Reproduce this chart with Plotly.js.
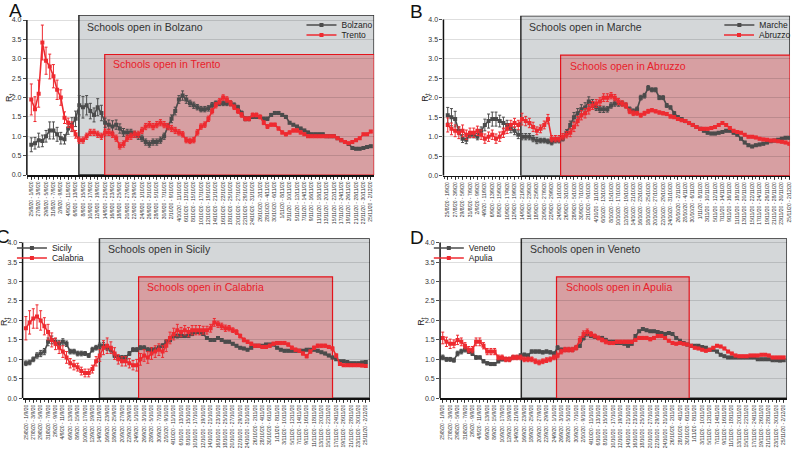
<!DOCTYPE html>
<html>
<head>
<meta charset="utf-8">
<script src="https://cdn.plot.ly/plotly-3.0.1.min.js"></script>
<style>
  html, body { margin: 0; padding: 0; background: #fff; }
  #chart { width: 796px; height: 450px; }
</style>
</head>
<body>
<div id="chart"></div>
<script>
// 7-day windows, one label every second day
const tickLabels = ['25/8/20 - 1/9/20','27/8/20 - 3/9/20','29/8/20 - 5/9/20','31/8/20 - 7/9/20',
  '2/9/20 - 9/9/20','4/9/20 - 11/9/20','6/9/20 - 13/9/20','8/9/20 - 15/9/20','10/9/20 - 17/9/20',
  '12/9/20 - 19/9/20','14/9/20 - 21/9/20','16/9/20 - 23/9/20','18/9/20 - 25/9/20','20/9/20 - 27/9/20',
  '22/9/20 - 29/9/20','24/9/20 - 1/10/20','26/9/20 - 3/10/20','28/9/20 - 5/10/20','30/9/20 - 7/10/20',
  '2/10/20 - 9/10/20','4/10/20 - 11/10/20','6/10/20 - 13/10/20','8/10/20 - 15/10/20','10/10/20 - 17/10/20',
  '12/10/20 - 19/10/20','14/10/20 - 21/10/20','16/10/20 - 23/10/20','18/10/20 - 25/10/20','20/10/20 - 27/10/20',
  '22/10/20 - 29/10/20','24/10/20 - 31/10/20','26/10/20 - 2/11/20','28/10/20 - 4/11/20','30/10/20 - 6/11/20',
  '1/11/20 - 8/11/20','3/11/20 - 10/11/20','5/11/20 - 12/11/20','7/11/20 - 14/11/20','9/11/20 - 16/11/20',
  '11/11/20 - 18/11/20','13/11/20 - 20/11/20','15/11/20 - 22/11/20','17/11/20 - 24/11/20','19/11/20 - 26/11/20',
  '21/11/20 - 28/11/20','23/11/20 - 30/11/20','25/11/20 - 2/12/20'];

const yTicks = [0, 0.5, 1, 1.5, 2, 2.5, 3, 3.5, 4];

// Rt per daily window (panel A)
const bolzano = [0.78,0.82,0.90,0.88,1.00,1.15,1.15,1.05,0.95,0.92,
  1.20,1.30,1.45,1.80,1.75,1.80,1.65,1.55,1.75,1.60,
  1.35,1.30,1.25,1.30,1.20,1.10,1.10,1.10,1.05,1.00,
  0.95,0.85,0.80,0.85,0.85,0.90,1.00,1.25,1.45,1.65,
  1.95,2.05,1.95,1.85,1.80,1.75,1.70,1.70,1.72,1.80,
  1.85,1.85,1.85,1.85,1.85,1.80,1.75,1.60,1.45,1.45,
  1.50,1.50,1.50,1.45,1.45,1.55,1.60,1.60,1.55,1.50,
  1.35,1.30,1.25,1.20,1.15,1.10,1.05,1.05,1.05,1.05,
  1.00,1.00,1.00,0.95,0.90,0.85,0.80,0.70,0.68,0.68,
  0.70,0.72,0.74];
const bolzanoErr = [0.18,0.15,0.18,0.15,0.15,0.22,0.22,0.18,0.15,0.12,
  0.15,0.18,0.20,0.25,0.28,0.25,0.20,0.18,0.22,0.20,
  0.12,0.12,0.15,0.12,0.12,0.10,0.08,0.08,0.08,0.08,
  0.08,0.08,0.08,0.08,0.08,0.08,0.08,0.08,0.10,0.10,
  0.10,0.12,0.10,0.08,0.08,0.07,0.07,0.07,0.07,0.07,
  0.06,0.06,0.06,0.06,0.06,0.06,0.05,0.05,0.05,0.05,
  0.04,0.04,0.04,0.04,0.04,0.04,0.04,0.04,0.04,0.04,
  0.03,0.03,0.03,0.03,0.03,0.03,0.03,0.03,0.03,0.03,
  0.03,0.03,0.03,0.03,0.03,0.03,0.03,0.03,0.03,0.03,
  0.03,0.03,0.03];
const trento = [1.95,1.70,2.10,3.42,2.95,2.80,2.55,2.20,2.00,1.48,
  1.35,1.25,1.05,0.90,0.90,1.00,1.10,1.10,1.05,1.00,
  1.10,1.10,1.05,0.95,0.75,0.80,0.95,1.00,1.05,1.05,
  1.15,1.25,1.30,1.25,1.30,1.35,1.30,1.25,1.20,1.15,
  1.10,1.05,0.90,0.88,0.90,1.10,1.25,1.30,1.45,1.65,
  1.80,1.90,2.00,1.95,1.85,1.75,1.65,1.55,1.45,1.45,
  1.55,1.55,1.50,1.35,1.25,1.30,1.30,1.20,1.10,1.05,
  1.10,1.15,1.15,1.10,1.05,1.00,1.00,1.00,1.00,1.00,
  1.00,1.00,1.00,0.95,0.90,0.85,0.82,0.85,0.90,0.95,
  1.05,1.05,1.12];
const trentoErr = [0.40,0.32,0.35,0.45,0.35,0.32,0.30,0.25,0.20,0.15,
  0.12,0.12,0.10,0.08,0.08,0.08,0.08,0.08,0.08,0.08,
  0.08,0.08,0.08,0.08,0.08,0.08,0.08,0.08,0.08,0.08,
  0.08,0.08,0.08,0.08,0.08,0.08,0.08,0.08,0.08,0.08,
  0.07,0.07,0.07,0.07,0.07,0.07,0.07,0.07,0.07,0.07,
  0.07,0.07,0.07,0.07,0.07,0.06,0.06,0.06,0.05,0.05,
  0.05,0.05,0.05,0.05,0.05,0.04,0.04,0.04,0.04,0.04,
  0.04,0.04,0.04,0.04,0.03,0.03,0.03,0.03,0.03,0.03,
  0.03,0.03,0.03,0.03,0.03,0.03,0.03,0.03,0.03,0.03,
  0.03,0.03,0.03];

// panel B
const marche = [1.55,1.50,1.45,1.15,0.95,0.92,1.05,1.05,1.00,1.15,
  1.30,1.40,1.45,1.45,1.40,1.35,1.30,1.20,1.15,1.05,
  1.00,1.00,1.00,0.95,0.90,0.90,0.90,0.88,0.85,0.90,
  0.90,0.95,1.10,1.30,1.50,1.60,1.70,1.75,1.90,1.85,
  1.75,1.70,1.70,1.70,1.80,1.85,1.85,1.85,1.80,1.70,
  1.65,1.70,2.00,2.05,2.25,2.20,2.20,2.00,2.00,1.80,
  1.75,1.60,1.50,1.45,1.40,1.35,1.30,1.25,1.20,1.15,
  1.10,1.08,1.08,1.10,1.12,1.15,1.15,1.10,1.05,0.95,
  0.85,0.78,0.75,0.78,0.80,0.82,0.85,0.88,0.90,0.92,
  0.95,0.97,0.97];
const marcheErr = [0.20,0.22,0.20,0.10,0.10,0.10,0.08,0.08,0.08,0.10,
  0.15,0.18,0.18,0.18,0.15,0.15,0.12,0.10,0.10,0.10,
  0.08,0.08,0.08,0.08,0.08,0.06,0.06,0.06,0.06,0.06,
  0.06,0.06,0.08,0.10,0.12,0.12,0.12,0.12,0.12,0.10,
  0.08,0.08,0.08,0.07,0.07,0.07,0.07,0.06,0.06,0.06,
  0.06,0.06,0.06,0.06,0.06,0.05,0.05,0.05,0.05,0.05,
  0.04,0.04,0.04,0.04,0.04,0.04,0.04,0.03,0.03,0.03,
  0.03,0.03,0.03,0.03,0.03,0.03,0.03,0.03,0.03,0.03,
  0.03,0.03,0.03,0.03,0.03,0.03,0.03,0.03,0.03,0.03,
  0.03,0.03,0.03];
const abruzzo = [1.30,1.20,1.15,1.10,1.15,1.05,1.10,1.10,1.15,1.05,
  0.95,1.00,1.05,0.95,1.00,1.10,1.20,1.30,1.35,1.30,
  1.45,1.40,1.35,1.25,1.15,1.20,1.30,1.45,0.95,0.95,
  0.95,1.00,1.05,1.10,1.25,1.40,1.55,1.60,1.70,1.80,
  1.85,1.90,2.00,2.00,2.05,2.00,1.90,1.85,1.80,1.65,
  1.60,1.60,1.55,1.60,1.65,1.68,1.65,1.62,1.60,1.58,
  1.52,1.50,1.45,1.42,1.40,1.35,1.30,1.25,1.20,1.20,
  1.20,1.22,1.25,1.30,1.35,1.30,1.22,1.15,1.12,1.10,
  1.05,1.00,1.00,0.98,0.95,0.93,0.92,0.90,0.90,0.88,
  0.87,0.85,0.82];
const abruzzoErr = [0.18,0.15,0.15,0.15,0.15,0.12,0.12,0.12,0.12,0.12,
  0.12,0.12,0.12,0.12,0.12,0.12,0.12,0.12,0.12,0.12,
  0.15,0.12,0.12,0.12,0.10,0.10,0.10,0.12,0.08,0.08,
  0.08,0.08,0.08,0.10,0.12,0.12,0.12,0.12,0.12,0.10,
  0.10,0.10,0.10,0.10,0.08,0.08,0.08,0.07,0.07,0.06,
  0.06,0.05,0.05,0.05,0.05,0.04,0.04,0.04,0.04,0.04,
  0.04,0.03,0.03,0.03,0.03,0.03,0.03,0.03,0.03,0.03,
  0.03,0.03,0.03,0.03,0.03,0.03,0.03,0.03,0.03,0.03,
  0.03,0.03,0.03,0.03,0.03,0.03,0.03,0.03,0.03,0.03,
  0.03,0.03,0.03];

// panel C
const sicily = [0.90,0.92,1.00,1.10,1.15,1.20,1.45,1.50,1.45,1.40,
  1.45,1.40,1.20,1.20,1.15,1.15,1.15,1.10,1.25,1.30,
  1.35,1.35,1.30,1.25,1.10,1.05,1.05,1.05,1.15,1.25,
  1.25,1.30,1.30,1.25,1.25,1.25,1.30,1.35,1.45,1.50,
  1.60,1.60,1.60,1.60,1.60,1.65,1.70,1.70,1.65,1.55,
  1.50,1.50,1.55,1.50,1.45,1.45,1.40,1.35,1.30,1.28,
  1.25,1.30,1.35,1.35,1.35,1.38,1.38,1.38,1.30,1.25,
  1.22,1.22,1.22,1.22,1.22,1.22,1.25,1.25,1.25,1.22,
  1.18,1.15,1.10,1.05,1.00,0.95,0.95,0.93,0.90,0.90,
  0.90,0.92,0.93];
const sicilyErr = [0.06,0.06,0.06,0.07,0.08,0.08,0.10,0.10,0.08,0.08,
  0.08,0.07,0.06,0.06,0.06,0.06,0.05,0.05,0.06,0.06,
  0.07,0.08,0.07,0.06,0.05,0.05,0.05,0.05,0.05,0.05,
  0.05,0.05,0.05,0.05,0.05,0.05,0.05,0.05,0.05,0.05,
  0.05,0.05,0.04,0.04,0.04,0.04,0.04,0.04,0.03,0.03,
  0.03,0.03,0.03,0.03,0.03,0.03,0.03,0.03,0.03,0.03,
  0.03,0.03,0.03,0.03,0.03,0.03,0.03,0.03,0.03,0.03,
  0.03,0.03,0.03,0.03,0.03,0.03,0.03,0.03,0.03,0.03,
  0.03,0.03,0.03,0.03,0.03,0.03,0.03,0.03,0.03,0.03,
  0.03,0.03,0.03];
const calabria = [1.80,1.95,2.05,2.10,2.00,1.85,1.70,1.50,1.40,1.30,
  1.20,1.05,0.90,0.85,0.80,0.70,0.65,0.65,0.75,0.95,
  1.10,1.30,1.35,1.30,1.15,1.00,0.95,0.95,0.90,0.85,
  0.85,1.00,1.10,1.05,1.15,1.20,1.25,1.20,1.35,1.55,
  1.65,1.75,1.70,1.75,1.70,1.75,1.75,1.75,1.75,1.75,
  1.80,1.95,1.90,1.85,1.80,1.80,1.75,1.70,1.60,1.50,
  1.45,1.40,1.35,1.35,1.32,1.32,1.35,1.40,1.42,1.42,
  1.42,1.38,1.30,1.25,1.22,1.15,1.08,1.20,1.30,1.35,
  1.35,1.35,1.32,1.28,1.10,0.88,0.85,0.85,0.85,0.85,
  0.85,0.84,0.83];
const calabriaErr = [0.30,0.30,0.25,0.30,0.25,0.22,0.20,0.18,0.15,0.15,
  0.15,0.15,0.12,0.12,0.10,0.10,0.10,0.10,0.10,0.12,
  0.15,0.18,0.20,0.15,0.15,0.12,0.12,0.12,0.12,0.12,
  0.15,0.15,0.15,0.15,0.15,0.15,0.15,0.15,0.15,0.15,
  0.15,0.15,0.12,0.12,0.12,0.12,0.12,0.12,0.10,0.10,
  0.10,0.10,0.08,0.08,0.08,0.07,0.06,0.06,0.05,0.05,
  0.04,0.04,0.04,0.04,0.04,0.04,0.04,0.04,0.04,0.04,
  0.04,0.04,0.04,0.04,0.04,0.04,0.04,0.04,0.04,0.04,
  0.04,0.04,0.04,0.04,0.04,0.03,0.03,0.03,0.03,0.03,
  0.03,0.03,0.03];

// panel D
const veneto = [1.05,1.00,1.00,0.98,1.15,1.20,1.25,1.20,1.15,1.05,
  1.05,0.95,0.90,0.88,0.88,0.95,1.00,1.00,1.00,1.05,
  1.05,1.10,1.12,1.10,1.20,1.20,1.20,1.18,1.20,1.18,
  1.15,1.30,1.25,1.25,1.25,1.25,1.30,1.35,1.55,1.65,
  1.60,1.58,1.55,1.55,1.50,1.45,1.45,1.42,1.42,1.40,
  1.35,1.40,1.60,1.72,1.78,1.75,1.72,1.72,1.70,1.68,
  1.65,1.68,1.65,1.55,1.48,1.42,1.38,1.35,1.35,1.35,
  1.32,1.30,1.25,1.25,1.20,1.12,1.08,1.05,1.05,1.05,
  1.05,1.05,1.05,1.05,1.05,1.00,1.00,1.00,1.00,0.98,
  0.98,0.97,0.98];
const venetoErr = [0.06,0.05,0.05,0.05,0.06,0.06,0.06,0.05,0.05,0.05,
  0.04,0.04,0.04,0.04,0.04,0.04,0.04,0.04,0.04,0.04,
  0.04,0.04,0.04,0.04,0.04,0.04,0.04,0.04,0.04,0.04,
  0.04,0.05,0.04,0.04,0.04,0.04,0.04,0.04,0.05,0.05,
  0.04,0.04,0.04,0.04,0.04,0.03,0.03,0.03,0.03,0.03,
  0.03,0.03,0.03,0.03,0.03,0.03,0.03,0.03,0.03,0.03,
  0.03,0.03,0.03,0.03,0.03,0.03,0.03,0.03,0.03,0.03,
  0.03,0.03,0.03,0.03,0.03,0.03,0.03,0.03,0.03,0.03,
  0.03,0.03,0.03,0.03,0.03,0.03,0.03,0.03,0.03,0.03,
  0.03,0.03,0.03];
const apulia = [1.55,1.45,1.40,1.40,1.50,1.45,1.35,1.25,1.25,1.45,
  1.45,1.35,1.20,1.20,1.20,1.05,1.05,1.00,1.00,1.05,
  1.05,1.05,1.00,1.00,1.00,0.95,0.92,0.95,0.98,1.00,
  1.05,1.10,1.20,1.25,1.25,1.25,1.30,1.50,1.65,1.70,
  1.65,1.60,1.55,1.50,1.45,1.42,1.42,1.45,1.45,1.45,
  1.45,1.45,1.50,1.55,1.55,1.55,1.52,1.55,1.60,1.60,
  1.55,1.48,1.42,1.40,1.42,1.40,1.38,1.35,1.30,1.28,
  1.25,1.22,1.25,1.30,1.35,1.33,1.28,1.20,1.15,1.10,
  1.08,1.08,1.08,1.10,1.10,1.10,1.12,1.12,1.10,1.05,
  1.05,1.05,1.05];
const apuliaErr = [0.15,0.12,0.12,0.10,0.12,0.10,0.08,0.08,0.08,0.10,
  0.10,0.08,0.08,0.08,0.08,0.06,0.06,0.06,0.06,0.06,
  0.06,0.06,0.06,0.06,0.06,0.06,0.06,0.06,0.06,0.06,
  0.06,0.06,0.06,0.06,0.06,0.06,0.06,0.08,0.08,0.08,
  0.06,0.05,0.05,0.05,0.05,0.04,0.04,0.04,0.04,0.04,
  0.04,0.04,0.04,0.04,0.04,0.04,0.04,0.04,0.04,0.04,
  0.04,0.03,0.03,0.03,0.03,0.03,0.03,0.03,0.03,0.03,
  0.03,0.03,0.03,0.03,0.03,0.03,0.03,0.03,0.03,0.03,
  0.03,0.03,0.03,0.03,0.03,0.03,0.03,0.03,0.03,0.03,
  0.03,0.03,0.03];

const DARK = '#4b4b4b';
const RED = '#ee2a30';
const GRAY_FILL = '#d4d7d9';
const RED_FILL = '#d79fa2';

// px helpers (figure is 796 x 450, no margins)
const px = v => v / 796;
const py = v => 1 - v / 450;

const panels = [
  { letter: 'A', lx: 16, ly: 10, dom: [27, 376], ydom: [15, 175], xr: [-1.2, 92.9], ytop: 4.13,
    grayX: 12.9, redX0: 19.9, redX1: 92.9, redTop: 3.11,
    names: ['Bolzano', 'Trento'], data: [bolzano, trento], errs: [bolzanoErr, trentoErr],
    grayText: [85, 27], redText: [112, 64], rt: [10, 97], legX: 303, legY: [25, 35] },
  { letter: 'B', lx: 419, ly: 12, dom: [445.7, 794], ydom: [15.7, 175.7], xr: [-1.15, 92.2], ytop: 4.1,
    grayX: 19.7, redX0: 30.4, redX1: 92.2, redTop: 3.09,
    names: ['Marche', 'Abruzzo'], data: [marche, abruzzo], errs: [marcheErr, abruzzoErr],
    grayText: [530, 27], redText: [570.7, 66], rt: [428, 97], legX: 723, legY: [25, 35] },
  { letter: 'C', lx: 3, ly: 237, dom: [22.7, 371.7], ydom: [238.3, 398.3], xr: [-0.9, 93.1], ytop: 4.11,
    grayX: 19.9, redX0: 30.5, redX1: 83.0, redTop: 3.12,
    names: ['Sicily', 'Calabria'], data: [sicily, calabria], errs: [sicilyErr, calabriaErr],
    grayText: [107, 249], redText: [146, 287], rt: [4, 321], legX: 12, legY: [248, 258] },
  { letter: 'D', lx: 419, ly: 238, dom: [442.3, 791], ydom: [238.3, 398.3], xr: [-0.72, 92.9], ytop: 4.11,
    grayX: 21.2, redX0: 30.7, redX1: 66.5, redTop: 3.12,
    names: ['Veneto', 'Apulia'], data: [veneto, apulia], errs: [venetoErr, apuliaErr],
    grayText: [531, 249], redText: [566.7, 287], rt: [423, 321], legX: 431, legY: [248, 258] }
];
const grayNames = ['Bolzano', 'Marche', 'Sicily', 'Veneto'];

const traces = [];
const shapes = [];
const annotations = [];
const layout = {
  width: 796, height: 450,
  margin: { l: 0, r: 0, t: 0, b: 0 },
  paper_bgcolor: '#fff', plot_bgcolor: 'rgba(0,0,0,0)',
  font: { family: 'Liberation Sans, Arial, sans-serif', color: '#333' },
  showlegend: true
};

panels.forEach((p, k) => {
  const n = k === 0 ? '' : String(k + 1);
  const xa = 'x' + n, ya = 'y' + n;

  p.data.forEach((vals, j) => {
    const color = j === 0 ? DARK : RED;
    const li = k * 2 + j + 1;
    const legName = li === 1 ? 'legend' : 'legend' + li;
    traces.push({
      x: vals.map((_, i) => i),
      y: vals,
      name: p.names[j],
      type: 'scatter',
      mode: 'lines+markers',
      line: { color: color, width: 1.6 },
      marker: { symbol: 'square', size: 4, color: color },
      error_y: { type: 'data', array: p.errs[j], visible: true, color: color, thickness: 1, width: 1.5 },
      xaxis: xa, yaxis: ya,
      legend: legName
    });
    // one legend per entry so the rows sit as close as in the figure
    layout[legName] = {
      x: px(p.legX), y: py(p.legY[j]), xanchor: 'left', yanchor: 'middle',
      bgcolor: 'rgba(0,0,0,0)', font: { size: 8.5, color: '#222' },
      itemwidth: 30
    };
  });

  layout['xaxis' + n] = {
    domain: [px(p.dom[0]), px(p.dom[1])], range: p.xr, anchor: ya,
    tickmode: 'array', tickvals: tickLabels.map((_, i) => i * 2), ticktext: tickLabels,
    tickangle: -90, tickfont: { size: 5, color: '#333' },
    ticks: 'outside', ticklen: 3, tickwidth: 0.8, tickcolor: '#222',
    minor: { tickmode: 'linear', tick0: 0, dtick: 1, ticks: 'outside', ticklen: 2, tickwidth: 0.8, tickcolor: '#222' },
    showgrid: false, zeroline: false, showline: true, linecolor: '#111', linewidth: 1.5
  };
  layout['yaxis' + n] = {
    domain: [py(p.ydom[1]), py(p.ydom[0])], range: [0, p.ytop], anchor: xa,
    tickmode: 'array', tickvals: yTicks, tickformat: '.1f',
    tickfont: { size: 7, color: '#333' },
    ticks: 'outside', ticklen: 3, tickwidth: 0.8, tickcolor: '#222',
    showgrid: true, gridcolor: 'rgba(0,0,0,0.13)', gridwidth: 1,
    zeroline: false, showline: false
  };

  // shaded school periods
  shapes.push({ type: 'rect', xref: xa, yref: ya, x0: p.grayX, x1: p.xr[1], y0: 0, y1: p.ytop,
    fillcolor: GRAY_FILL, line: { color: '#2b2b2b', width: 1.5 }, layer: 'below' });
  shapes.push({ type: 'rect', xref: xa, yref: ya, x0: p.redX0, x1: p.redX1, y0: 0, y1: p.redTop,
    fillcolor: RED_FILL, line: { color: '#e3141c', width: 1.2 }, layer: 'below' });
  // y axis line up to 4.0
  shapes.push({ type: 'line', xref: xa + ' domain', yref: ya, x0: 0, x1: 0, y0: 0, y1: 4,
    line: { color: '#111', width: 1.5 } });

  annotations.push({ text: p.letter, xref: 'paper', yref: 'paper', x: px(p.lx), y: py(p.ly),
    xanchor: 'center', yanchor: 'middle', showarrow: false, font: { size: 19, color: '#111' } });
  annotations.push({ text: 'Schools open in ' + grayNames[k],
    xref: 'paper', yref: 'paper', x: px(p.grayText[0]), y: py(p.grayText[1]),
    xanchor: 'left', yanchor: 'middle', showarrow: false, font: { size: 10.5, color: '#333' } });
  annotations.push({ text: 'Schools open in ' + p.names[1],
    xref: 'paper', yref: 'paper', x: px(p.redText[0]), y: py(p.redText[1]),
    xanchor: 'left', yanchor: 'middle', showarrow: false, font: { size: 10.5, color: '#e8202a' } });
  annotations.push({ text: 'R<sub>t</sub>', xref: 'paper', yref: 'paper', x: px(p.rt[0]), y: py(p.rt[1]),
    xanchor: 'center', yanchor: 'middle', textangle: -90, showarrow: false, font: { size: 9, color: '#222' } });
});

layout.shapes = shapes;
layout.annotations = annotations;

Plotly.newPlot('chart', traces, layout, { staticPlot: true, displayModeBar: false });
</script>
</body>
</html>
